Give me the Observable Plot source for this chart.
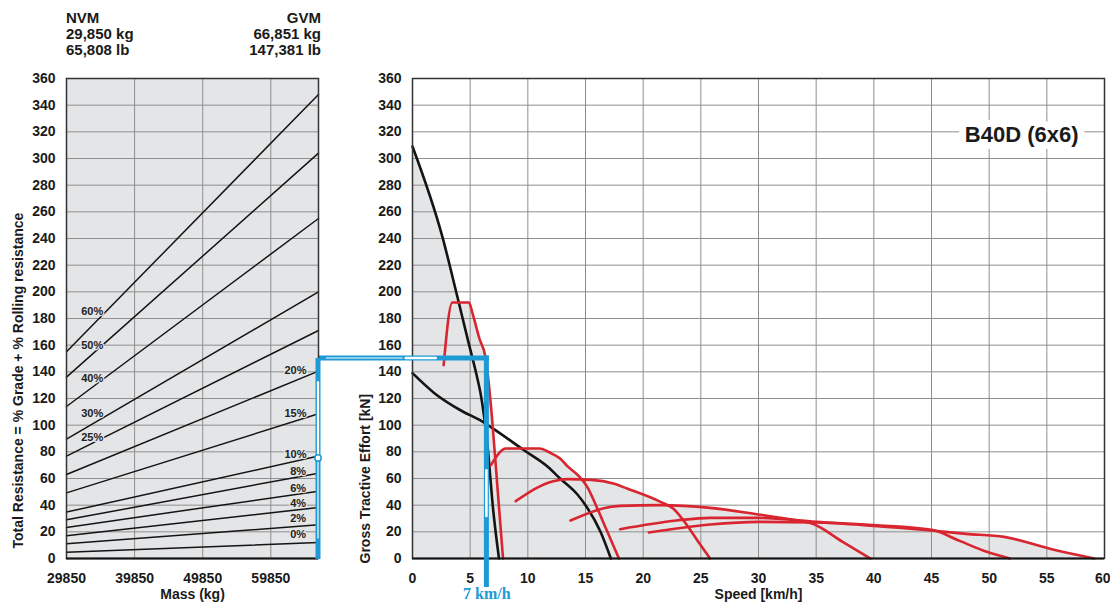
<!DOCTYPE html>
<html>
<head>
<meta charset="utf-8">
<script src="https://cdn.jsdelivr.net/npm/d3@7"></script>
<script src="https://cdn.jsdelivr.net/npm/@observablehq/plot@0.6"></script>
<style>
  html, body { margin: 0; padding: 0; background: #fff; }
  #wrap { position: relative; width: 1110px; height: 603px; overflow: hidden;
          font-family: "Liberation Sans", Arial, sans-serif; }
  #wrap svg { position: absolute; left: 0; top: 0; }
  .hdr { position: absolute; top: 10px; font-weight: bold; font-size: 15px; line-height: 16px; color: #1a1a1a; white-space: nowrap; }
</style>
</head>
<body>
<div id="wrap">
  <div class="hdr" style="left:66px;text-align:left">NVM<br>29,850 kg<br>65,808 lb</div>
  <div class="hdr" style="right:789px;text-align:right">GVM<br>66,851 kg<br>147,381 lb</div>
</div>
<script>
// ---------------- data ----------------
const massNVM = 29850;
const massGVM = 66851;
const massTicks = [29850, 39850, 49850, 59850];
const resistanceTicks = d3.range(0, 361, 20);
const speedTicks = d3.range(0, 61, 5);
const forceTicks = d3.range(0, 361, 20);

const grades = ["60%", "50%", "40%", "30%", "25%", "20%", "15%", "10%", "8%", "6%", "4%", "2%", "0%"];
const resistanceAtNVM = [155, 136, 114, 89.5, 76.8, 63, 49.2, 34.8, 29, 23.3, 17, 11, 4.75];
const resistanceAtGVM = [348, 304, 255, 200, 171, 140.5, 108.5, 76.8, 64, 50.5, 38.3, 25.3, 12];
// where each grade label sits (mass kg, resistance kN)
const gradeLabelMass = [33620, 33620, 33620, 33620, 33620, 63470, 63470, 63470, 63870, 63870, 63870, 63870, 63870];
const gradeLabelValue = [185.5, 159.5, 135, 108.7, 90.7, 141, 109, 78, 65.5, 52.5, 41, 30, 18.2];

// black tractive effort curves
const black1Speed = [0, 2.6, 3.9, 4.8, 5.6, 5.9, 6.5, 7.0, 7.5];
const black1Force = [309, 241, 196, 164, 136, 124, 85, 36, 0];
const black2Speed = [0, 1.9, 4.2, 6.0, 6.8, 9.7, 11.7, 12.8, 14.3, 15.0, 16.3, 17.2];
const black2Force = [139, 124, 111, 103, 98.5, 81, 69, 60, 48, 40, 20, 0];

// red gear curves
const gear1Speed = [2.7, 3.45, 4.9, 5.2, 5.8, 6.35, 6.9, 7.35, 7.85];
const gear1Force = [145, 192, 192, 184, 165, 150, 105, 55, 0];
const gear2Speed = [6.8, 8.1, 11.0, 12.0, 12.8, 13.4, 14.4, 15.2, 15.9, 16.9, 17.9];
const gear2Force = [70, 82.5, 82.5, 79, 75, 69.5, 62, 53, 40, 20, 0];
const gear3Speed = [8.95, 12.2, 13.5, 15.5, 17.5, 18.6, 21.5, 22.6, 23.8, 24.9, 25.8];
const gear3Force = [43, 58, 59.5, 59, 56, 52.5, 42.5, 37.5, 25, 11, 0];
const gear4Speed = [13.7, 18, 21.5, 25.8, 30, 33, 34.7, 37.3, 39.7];
const gear4Force = [28.5, 39.5, 40, 38, 33, 29, 26, 12.5, 0];
const gear5Speed = [18, 22.9, 25.8, 30, 35, 40, 45, 47.5, 49.8, 51.8];
const gear5Force = [22, 28.5, 30.5, 30.5, 27.5, 25, 21.5, 13, 5, 0];
const gear6Speed = [20.5, 25.8, 30, 35, 40, 45, 48, 51.3, 55.6, 59.1];
const gear6Force = [19.5, 25.5, 27.5, 27, 24.5, 21, 18.5, 16.2, 6.5, 0];

// reading example
const arrowForce = 150;   // kN
const arrowSpeed = 6.45;  // km/h (where the arrow is drawn)
const arrowLabel = "7 km/h";

const chartTitle = "B40D (6x6)";
const massLabel = "Mass (kg)";
const resistanceLabel = "Total Resistance = % Grade + % Rolling resistance";
const speedLabel = "Speed [km/h]";
const forceLabel = "Gross Tractive Effort [kN]";

// ---------------- styles ----------------
const blue = "#1d9ad6";
const red = "#d8252f";
const ink = "#141414";
const shade = "#e4e5e7";
const gridColor = "#8e8e8e";
const font = "'Liberation Sans', Arial, sans-serif";

function series(name, xs, ys) { return xs.map((s, i) => ({curve: name, speed: s, force: ys[i]})); }
const blackCurves = [...series("b1", black1Speed, black1Force), ...series("b2", black2Speed, black2Force)];
const gearCurves = [
  ...series("g1", gear1Speed, gear1Force), ...series("g2", gear2Speed, gear2Force),
  ...series("g3", gear3Speed, gear3Force), ...series("g4", gear4Speed, gear4Force),
  ...series("g5", gear5Speed, gear5Force), ...series("g6", gear6Speed, gear6Force)
];
const shadedCurves = [...series("b1", black1Speed, black1Force), ...gearCurves];

const gradeTable = grades.flatMap((g, i) => [
  {grade: g, mass: massNVM, r: resistanceAtNVM[i]},
  {grade: g, mass: massGVM, r: resistanceAtGVM[i]}
]);
const gradeLabels = grades.map((g, i) => ({grade: g, mass: gradeLabelMass[i], r: gradeLabelValue[i]}));

const svgStyle = {background: "transparent", overflow: "visible", fontFamily: font,
                  fontSize: "14px", fontWeight: "bold", color: "#1a1a1a"};

function hollow(g, x1, y1, x2, y2, f0, f1, w) {
  g.append("line")
    .attr("x1", x1 + (x2 - x1) * f0).attr("y1", y1 + (y2 - y1) * f0)
    .attr("x2", x1 + (x2 - x1) * f1).attr("y2", y1 + (y2 - y1) * f1)
    .attr("stroke", "#fff").attr("stroke-width", w).attr("stroke-linecap", "round");
}

// ---------------- left panel ----------------
const leftPlot = Plot.plot({
  width: 330, height: 603,
  marginLeft: 66, marginRight: 12, marginTop: 78, marginBottom: 45,
  style: svgStyle,
  x: {domain: [massNVM, massGVM], ticks: massTicks, tickFormat: d3.format("d"), tickSize: 0, tickPadding: 15, label: null},
  y: {domain: [0, 360], ticks: resistanceTicks, tickSize: 0, tickPadding: 11, label: null},
  marks: [
    Plot.frame({fill: shade, stroke: "none"}),
    Plot.ruleX(massTicks, {stroke: gridColor, strokeWidth: 1}),
    Plot.ruleY(resistanceTicks, {stroke: gridColor, strokeWidth: 1}),
    Plot.line(gradeTable, {x: "mass", y: "r", z: "grade", stroke: ink, strokeWidth: 1.5}),
    Plot.text(gradeLabels, {x: "mass", y: "r", text: "grade", fontSize: 11, fontWeight: "bold",
      fill: "#222", stroke: shade, strokeWidth: 2.5}),
    Plot.frame({stroke: "#333", strokeWidth: 1.5}),
    Plot.ruleY([0], {stroke: ink, strokeWidth: 2}),
    Plot.text([massLabel], {frameAnchor: "bottom", dy: 36, lineAnchor: "middle", fontSize: 14, fontWeight: "bold", fill: "#1a1a1a"}),
    Plot.text([resistanceLabel], {frameAnchor: "bottom-left", rotate: -90, textAnchor: "start", lineAnchor: "middle",
      dx: -48, dy: -10, fontSize: 14, fontWeight: "bold", fill: "#1a1a1a"}),
    (index, scales) => {
      const g = d3.create("svg:g");
      const x = scales.x(massGVM), y0 = scales.y(0), y1 = scales.y(arrowForce);
      g.append("line").attr("x1", x).attr("x2", x).attr("y1", y0 + 1).attr("y2", y1)
        .attr("stroke", blue).attr("stroke-width", 5);
      hollow(g, x, y0, x, y1, 0.1, 0.48, 1.2);
      hollow(g, x, y0, x, y1, 0.5, 0.88, 2.2);
      g.append("circle").attr("cx", x).attr("cy", y0 + (y1 - y0) * 0.5).attr("r", 3.2)
        .attr("fill", "#fff").attr("stroke", blue).attr("stroke-width", 1.5);
      return g.node();
    }
  ]
});

const leftX = leftPlot.scale("x");

// ---------------- right panel ----------------
const rightPlot = Plot.plot({
  width: 1110, height: 603,
  marginLeft: 412, marginRight: 6, marginTop: 78, marginBottom: 45,
  style: svgStyle,
  x: {domain: [0, 60], axis: null, label: null},
  y: {domain: [0, 360], ticks: forceTicks, tickSize: 0, tickPadding: 11, label: null},
  marks: [
    Plot.areaY(shadedCurves, {x: "speed", y1: 0, y2: "force", z: "curve", fill: shade, curve: "monotone-x"}),
    Plot.ruleX(speedTicks, {stroke: gridColor, strokeWidth: 1}),
    Plot.ruleY(forceTicks, {stroke: gridColor, strokeWidth: 1}),
    Plot.line(blackCurves, {x: "speed", y: "force", z: "curve", stroke: ink, strokeWidth: 2.6, curve: "monotone-x"}),
    Plot.line(gearCurves, {x: "speed", y: "force", z: "curve", stroke: red, strokeWidth: 2.6, curve: "monotone-x"}),
    Plot.frame({stroke: "#333", strokeWidth: 1.5}),
    Plot.ruleY([0], {stroke: ink, strokeWidth: 2}),
    Plot.axisX(speedTicks.slice(0, -1), {tickSize: 0, tickPadding: 15, label: null}),
    Plot.axisX(speedTicks.slice(-1), {tickSize: 0, tickPadding: 15, label: null, textAnchor: "end", dx: 6}),
    Plot.text([chartTitle], {frameAnchor: "top-right", dx: -26, dy: 56, textAnchor: "end", lineAnchor: "middle",
      fontSize: 22, fontWeight: "bold", fill: "#1a1a1a", stroke: "#fff", strokeWidth: 14}),
    Plot.text([speedLabel], {frameAnchor: "bottom", dy: 36, lineAnchor: "middle", fontSize: 14, fontWeight: "bold", fill: "#1a1a1a"}),
    Plot.text([forceLabel], {frameAnchor: "bottom-left", rotate: -90, textAnchor: "start", lineAnchor: "middle",
      dx: -47, dy: 5, fontSize: 14, fontWeight: "bold", fill: "#1a1a1a"}),
    (index, scales) => {
      const g = d3.create("svg:g");
      const xL = leftX.apply(massGVM);
      const xA = scales.x(arrowSpeed);
      const yA = scales.y(arrowForce);
      const yB = scales.y(0) + 29;
      g.append("line").attr("x1", xL).attr("x2", xA + 2.5).attr("y1", yA).attr("y2", yA)
        .attr("stroke", blue).attr("stroke-width", 5);
      hollow(g, xL, yA, xA, yA, 0.05, 0.5, 1.2);
      hollow(g, xL, yA, xA, yA, 0.52, 0.7, 2.4);
      g.append("line").attr("x1", xA).attr("x2", xA).attr("y1", yA - 2.5).attr("y2", yB)
        .attr("stroke", blue).attr("stroke-width", 5);
      hollow(g, xA, yA, xA, yB, 0.49, 0.69, 2.6);
      return g.node();
    },
    Plot.text([arrowLabel], {x: () => arrowSpeed, frameAnchor: "bottom", dy: 35, lineAnchor: "middle",
      fontFamily: "'Liberation Serif', 'DejaVu Serif', serif", fontSize: 16, fontWeight: "bold", fill: blue})
  ]
});

const wrap = document.getElementById("wrap");
wrap.appendChild(rightPlot);
wrap.appendChild(leftPlot);
</script>
</body>
</html>
